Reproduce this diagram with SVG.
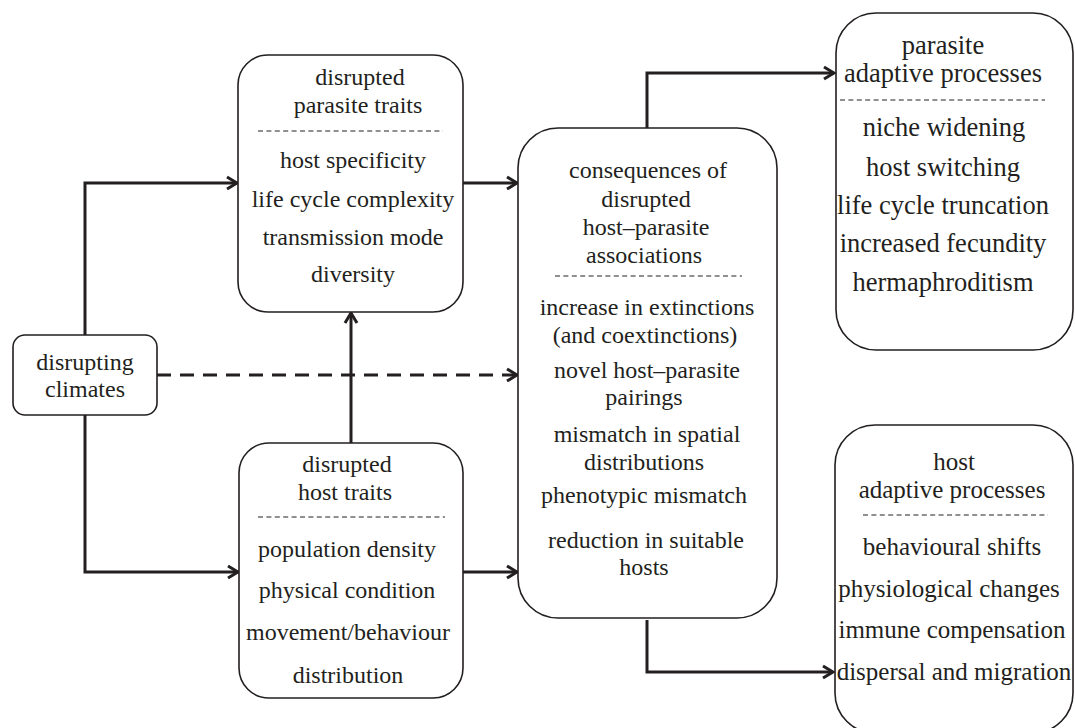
<svg xmlns="http://www.w3.org/2000/svg" width="1075" height="728" viewBox="0 0 1075 728">
<defs>
<style>
.box{fill:#fff;stroke:#231f20;stroke-width:1.6}
.sep{stroke:#231f20;stroke-width:1;stroke-dasharray:5 3.4}
.t{font-family:"Liberation Serif","Times New Roman",serif;font-size:24px;fill:#231f20;text-anchor:middle}
.big{font-size:26.5px}
.mid{font-size:25px}
.c{fill:none;stroke:#231f20;stroke-width:3}
.d{stroke-dasharray:14 9}
</style>
<marker id="ah" viewBox="-12 -8 14 16" refX="0" refY="0" markerWidth="14" markerHeight="16" markerUnits="userSpaceOnUse" orient="auto">
<path d="M-10,-6 L0,0 L-10,6" fill="none" stroke="#231f20" stroke-width="3" stroke-linejoin="miter"/>
</marker>
</defs>
<rect width="1075" height="728" fill="#fff"/>
<g id="connectors">
<path class="c" d="M85,335 V183 H237" marker-end="url(#ah)"/>
<path class="c" d="M85,415 V572 H238" marker-end="url(#ah)"/>
<path class="c d" d="M157,375 H517" marker-end="url(#ah)"/>
<path class="c" d="M463,183 H517" marker-end="url(#ah)"/>
<path class="c" d="M463,572 H517" marker-end="url(#ah)"/>
<path class="c" d="M351,443 V313" marker-end="url(#ah)"/>
<path class="c" d="M647,128 V73 H834" marker-end="url(#ah)"/>
<path class="c" d="M647,620 V672 H833" marker-end="url(#ah)"/>
</g>
<g id="climates">
<rect class="box" x="13" y="335" width="144" height="80" rx="12"/>
<text class="t" x="85" y="370">disrupting</text>
<text class="t" x="85" y="397">climates</text>
</g>
<g id="parasite-traits">
<rect class="box" x="238" y="55" width="225" height="257" rx="30"/>
<text class="t" x="360" y="85">disrupted</text>
<text class="t" x="358" y="113">parasite traits</text>
<line class="sep" x1="258" y1="131" x2="443" y2="131"/>
<text class="t" x="353" y="168">host specificity</text>
<text class="t" x="353" y="207">life cycle complexity</text>
<text class="t" x="353" y="245">transmission mode</text>
<text class="t" x="353" y="282">diversity</text>
</g>
<g id="host-traits">
<rect class="box" x="239" y="443" width="224" height="255" rx="30"/>
<text class="t" x="347" y="472">disrupted</text>
<text class="t" x="345" y="500">host traits</text>
<line class="sep" x1="258" y1="517" x2="445" y2="517"/>
<text class="t" x="347" y="557">population density</text>
<text class="t" x="347" y="598">physical condition</text>
<text class="t" x="348" y="640">movement/behaviour</text>
<text class="t" x="348" y="683">distribution</text>
</g>
<g id="consequences">
<rect class="box" x="518" y="128" width="259" height="490" rx="40"/>
<text class="t" x="648" y="178">consequences of</text>
<text class="t" x="646" y="207">disrupted</text>
<text class="t" x="646" y="235">host–parasite</text>
<text class="t" x="644" y="263">associations</text>
<line class="sep" x1="555" y1="276" x2="742" y2="276"/>
<text class="t" x="647" y="315">increase in extinctions</text>
<text class="t" x="645" y="343">(and coextinctions)</text>
<text class="t" x="647" y="378">novel host–parasite</text>
<text class="t" x="644" y="405">pairings</text>
<text class="t" x="647" y="442">mismatch in spatial</text>
<text class="t" x="644" y="470">distributions</text>
<text class="t" x="644" y="503">phenotypic mismatch</text>
<text class="t" x="646" y="548">reduction in suitable</text>
<text class="t" x="644" y="575">hosts</text>
</g>
<g id="parasite-adaptive">
<rect class="box" x="836" y="13" width="237" height="337" rx="40"/>
<text class="t big" x="943" y="54">parasite</text>
<text class="t big" x="943" y="82">adaptive processes</text>
<line class="sep" x1="840" y1="100" x2="1045" y2="100"/>
<text class="t big" x="944" y="136">niche widening</text>
<text class="t big" x="943" y="176">host switching</text>
<text class="t big" x="943" y="214">life cycle truncation</text>
<text class="t big" x="943" y="252">increased fecundity</text>
<text class="t big" x="943" y="291">hermaphroditism</text>
</g>
<g id="host-adaptive">
<rect class="box" x="835" y="425" width="238" height="308" rx="40"/>
<text class="t mid" x="954" y="470">host</text>
<text class="t mid" x="952" y="498">adaptive processes</text>
<line class="sep" x1="863" y1="515" x2="1048" y2="515"/>
<text class="t mid" x="952" y="555">behavioural shifts</text>
<text class="t mid" x="949" y="597">physiological changes</text>
<text class="t mid" x="952" y="638">immune compensation</text>
<text class="t mid" x="954" y="680">dispersal and migration</text>
</g>
</svg>
